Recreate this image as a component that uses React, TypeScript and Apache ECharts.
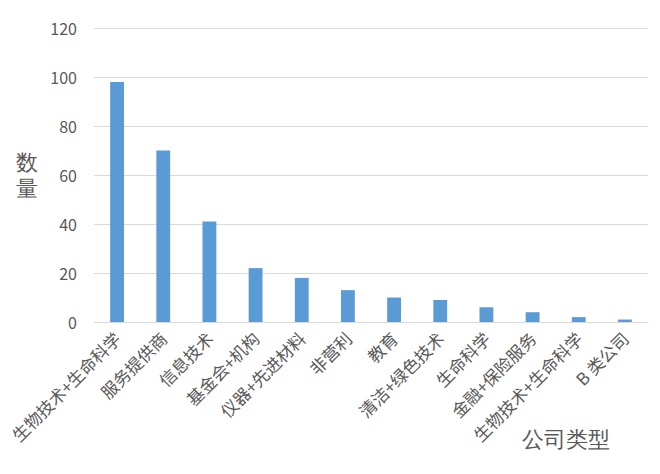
import React, { useEffect, useRef } from "react";
import * as echarts from "echarts";

const categories = [
  "生物技术+生命科学",
  "服务提供商",
  "信息技术",
  "基金会+机构",
  "仪器+先进材料",
  "非营利",
  "教育",
  "清洁+绿色技术",
  "生命科学",
  "金融+保险服务",
  "生物技术+生命科学",
  "B 类公司",
];
const counts = [98, 70, 41, 22, 18, 13, 10, 9, 6, 4, 2, 1];
const yTicks = { min: 0, max: 120, interval: 20 };

const FONT = "'Noto Sans CJK SC', 'Noto Sans', sans-serif";
const TEXT = "#595959";

export default function App() {
  const ref = useRef<HTMLDivElement>(null);
  useEffect(() => {
    if (!ref.current) return;
    const chart = echarts.init(ref.current, undefined, { renderer: "svg" });
    chart.setOption({
      animation: false,
      backgroundColor: "#ffffff",
      grid: { left: 94, right: 12, top: 28, bottom: 152, containLabel: false },
      xAxis: {
        type: "category",
        data: categories,
        axisLine: { lineStyle: { color: "#d9d9d9", width: 1 } },
        axisTick: { show: false },
        axisLabel: {
          rotate: 45,
          interval: 0,
          margin: 13,
          fontSize: 17,
          color: TEXT,
          fontFamily: FONT,
        },
      },
      yAxis: {
        type: "value",
        min: yTicks.min,
        max: yTicks.max,
        interval: yTicks.interval,
        axisLine: { show: false },
        axisTick: { show: false },
        splitLine: { lineStyle: { color: "#d9d9d9", width: 1 } },
        axisLabel: {
          margin: 17,
          fontSize: 16,
          color: TEXT,
          fontFamily: FONT,
        },
      },
      graphic: [
        {
          type: "text",
          left: 16,
          top: 149,
          style: {
            text: "数\n量",
            fontSize: 22,
            lineHeight: 26,
            fill: TEXT,
            font: `22px ${FONT}`,
          },
        },
        {
          type: "text",
          left: 522,
          top: 428,
          style: {
            text: "公司类型",
            fontSize: 22,
            fill: TEXT,
            font: `22px ${FONT}`,
          },
        },
      ],
      series: [
        {
          type: "bar",
          data: counts,
          barWidth: "30%",
          itemStyle: { color: "#5b9bd5" },
        },
      ],
    });
    return () => chart.dispose();
  }, []);
  return <div ref={ref} style={{ width: 660, height: 474, margin: -8 }} />;
}
